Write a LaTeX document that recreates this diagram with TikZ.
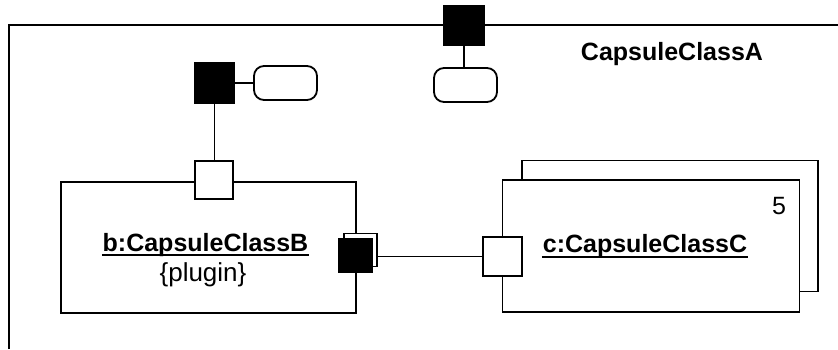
\documentclass[tikz,border=0pt]{standalone}
\usepackage{fontspec}
\setmainfont{Liberation Sans}
\begin{document}
\begin{tikzpicture}[x=1pt,y=-1pt,line width=1.8pt,
    capsule/.style={draw,fill=white,inner sep=0pt},
    port/.style={draw,fill=white,inner sep=0pt,minimum size=38pt},
    portbl/.style={draw,fill=black,inner sep=0pt,minimum size=39pt},
    relay/.style={draw,fill=white,inner sep=0pt,minimum width=33pt,minimum height=33pt},
    pill/.style={draw,fill=white,rounded corners=10pt,inner sep=0pt,minimum width=63pt,minimum height=34pt},
    label/.style={inner sep=0pt,anchor=base,font=\fontsize{25}{30}\selectfont\bfseries},
    note/.style={inner sep=0pt,anchor=base,font=\fontsize{25}{30}\selectfont}]
    \useasboundingbox (0,0) rectangle (838,349);
    % frame of CapsuleClassA
    \draw (9,349)--(9,25)--(838,25);
    \node[label] (Aname) at (672,60.5) {CapsuleClassA};
    % capsule roles
    \node[capsule,minimum width=296.5pt,minimum height=131pt] (Cback) at (670,226) {};
    \node[capsule,minimum width=297pt,minimum height=132pt] (C) at (651,246) {};
    \node[capsule,minimum width=295pt,minimum height=131pt] (B) at (208.5,247.5) {};
    \node[label] (Bname) at (205.5,251) {b:CapsuleClassB};
    \node[note,font=\fontsize{26}{30}\selectfont] (Bplug) at (203,281.5) {\{plugin\}};
    \node[label] (Cname) at (645,252.5) {c:CapsuleClassC};
    \node[note] (Cmult) at (779,214) {5};
    \draw ([yshift=-4pt]Bname.base west)--([yshift=-4pt]Bname.base east);
    \draw ([yshift=-4.5pt]Cname.base west)--([yshift=-4.5pt]Cname.base east);
    % ports
    \node[portbl,minimum height=40pt] (Lpt) at (214.5,83) {};
    \node[pill] (Lpill) at (285.5,83) {};
    \node[portbl,minimum width=40pt] (Apt) at (464,25.5) {};
    \node[pill] (Apill) at (465.5,85) {};
    \node[port] (Bpt) at (214,180) {};
    \node[relay] (Bback) at (360.5,250) {};
    \node[relay,fill=black] (Bcon) at (355.5,255.5) {};
    \node[port,minimum size=38.5pt] (Cpt) at (502.5,256.5) {};
    \draw (Lpt.south)--(Lpt.south|-Bpt.north);
    \draw (Lpt.east)--(Lpill.west);
    \draw (Apt.south)--(Apt.south|-Apill.north);
    \draw (Bback.east|-Cpt.west)--(Cpt.west);
\end{tikzpicture}
\end{document}
